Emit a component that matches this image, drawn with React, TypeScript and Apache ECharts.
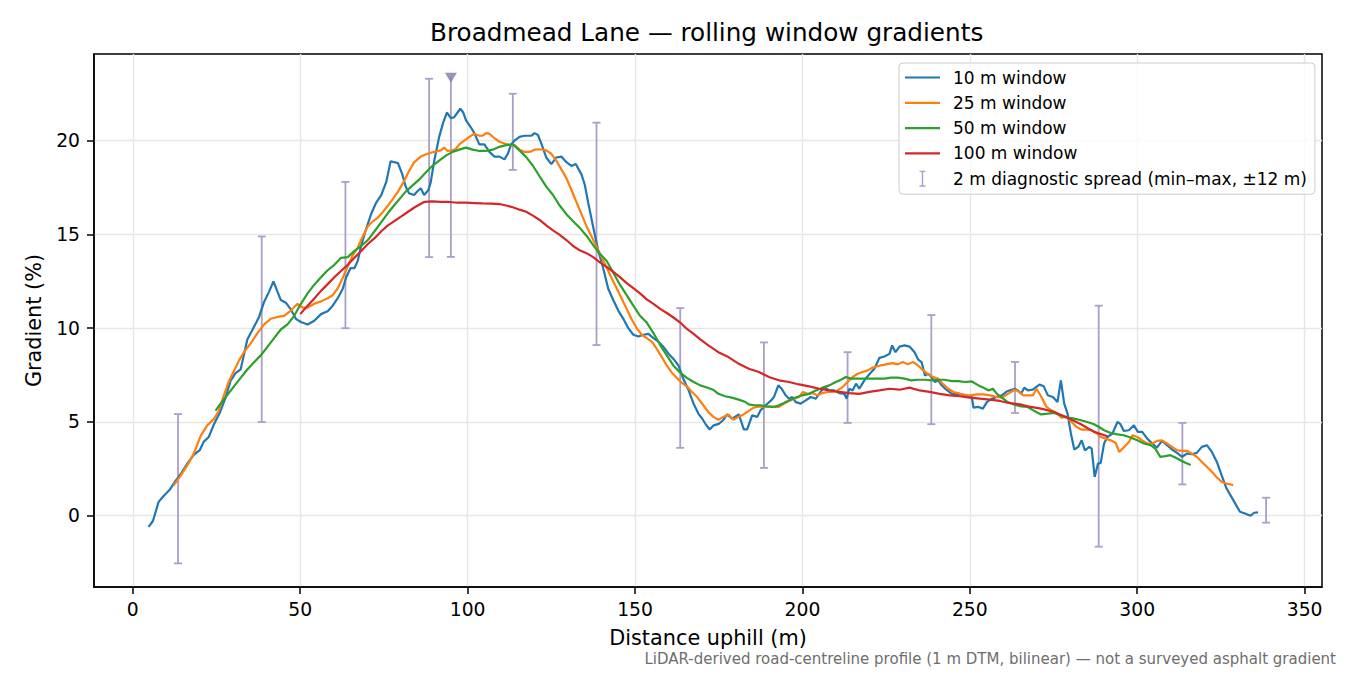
import React, { useEffect, useRef } from 'react';
import * as echarts from 'echarts';

const FONT = '"DejaVu Sans", sans-serif';

const xTicks = [0, 50, 100, 150, 200, 250, 300, 350];
const yTicks = [0, 5, 10, 15, 20];

const seriesNames = ['10 m window', '25 m window', '50 m window', '100 m window'];
const seriesColors = ['#1f77b4', '#ff7f0e', '#2ca02c', '#d62728'];
const spreadName = '2 m diagnostic spread (min–max, ±12 m)';
const SPREAD_COLOR = '#a99fc8';
const MARKER_COLOR = '#8576ab';

// 10 m window
const w10Dist = [4.7, 6, 7.7, 9.2, 11, 12.7, 14.2, 16.2, 18.2, 20, 21.2, 22.7, 24.2, 26, 27.7, 29.2, 30.7, 32.2, 33.2, 34.2, 35.7, 37.7, 39.2, 40.7, 42, 43.2, 44.2, 45.7, 47.2, 48.7, 50.2, 52.2, 54.2, 56.2, 58.2, 59.7, 61.2, 62.7, 63.7, 65, 66.2, 67.2, 68.2, 69.7, 71.2, 72.7, 74.2, 75.7, 77, 79.2, 80.5, 81.5, 82.5, 84, 85, 86, 87, 88.3, 89, 90, 91.5, 92.7, 93.8, 95, 96, 97, 97.8, 98.7, 99.5, 101, 102, 103.5, 105, 106.5, 108, 109.5, 111, 112, 113, 114, 115.5, 117, 119, 120, 121, 122, 123.5, 125, 126.5, 128, 129.5, 131, 132.3, 134, 135, 136, 137.5, 139, 140.5, 142, 143.5, 145, 146.5, 148, 149.5, 151, 152.5, 154, 155.5, 157, 158.5, 160, 161.5, 163, 164.5, 166, 167.5, 169, 170, 171.2, 172.3, 173.5, 175, 176.3, 177.5, 179, 181, 182.5, 183.5, 185, 186.5, 187.5, 189, 190.5, 191.5, 192.8, 193.8, 195, 196, 197, 198, 199.5, 201, 202.5, 204, 205, 206.5, 208, 209.5, 211, 212.5, 213.2, 214, 215, 216, 217, 218.5, 220, 221.5, 223, 224.5, 226, 226.8, 227.8, 229, 230.5, 232, 233.5, 234.6, 235.6, 236.6, 237.6, 238.6, 239.6, 240.6, 241.6, 243, 244.6, 246, 247.6, 249, 250.6, 251.1, 252.6, 253.9, 255.1, 256.6, 258.1, 259.6, 261, 262.5, 263.4, 264.4, 265.3, 266.3, 267.3, 268.8, 269.8, 270.8, 272.1, 273.3, 274.8, 276.2, 277.2, 278.2, 279.2, 280.2, 281.2, 282.4, 283.4, 284.4, 285.7, 286.4, 287.3, 288.3, 289.1, 290.1, 291.1, 292.6, 294.1, 295, 296, 297.5, 299, 300.2, 301.5, 303, 304.5, 305.9, 307.4, 308.9, 310.4, 311.9, 313.4, 314.9, 316.3, 317.8, 319.3, 320.8, 322.3, 323.8, 325.2, 326.7, 328.7, 330.7, 332.2, 333.9, 334.9, 336.1];
const w10Grad = [-0.59, -0.28, 0.74, 1.05, 1.38, 1.84, 2.2, 2.76, 3.25, 3.5, 3.95, 4.2, 4.87, 5.5, 6.3, 7.2, 7.6, 7.8, 8.6, 9.4, 9.9, 10.6, 11.4, 11.95, 12.5, 11.95, 11.5, 11.36, 11.0, 10.5, 10.33, 10.2, 10.4, 10.75, 10.9, 11.2, 11.6, 12.1, 12.7, 13.2, 13.2, 13.6, 14.4, 15.3, 16.1, 16.7, 17.1, 17.8, 18.9, 18.8, 18.2, 17.55, 17.2, 17.1, 17.3, 17.46, 17.1, 17.37, 17.8, 18.9, 20.2, 20.96, 21.5, 21.2, 21.25, 21.5, 21.7, 21.5, 21.1, 20.7, 20.4, 19.8, 19.8, 19.4, 19.15, 19.15, 19.0, 19.3, 19.8, 20.0, 20.2, 20.26, 20.26, 20.4, 20.3, 19.85, 19.1, 18.75, 19.1, 19.15, 18.85, 18.65, 18.75, 18.2, 17.65, 16.7, 15.4, 14.15, 13.2, 12.1, 11.5, 10.94, 10.5, 10.0, 9.65, 9.56, 9.65, 9.7, 9.47, 9.28, 9.0, 8.64, 8.36, 8.0, 7.26, 6.7, 5.97, 5.42, 5.2, 4.85, 4.6, 4.82, 4.9, 5.09, 5.4, 5.18, 5.4, 4.6, 4.6, 5.35, 5.27, 5.62, 5.89, 6.12, 6.33, 6.95, 6.77, 6.42, 6.24, 6.33, 6.06, 5.98, 6.15, 6.33, 6.24, 6.5, 6.86, 6.68, 6.68, 6.54, 6.5, 6.24, 6.77, 6.68, 7.04, 6.77, 7.22, 7.54, 7.84, 8.42, 8.49, 8.63, 9.08, 8.72, 9.02, 9.08, 9.02, 8.72, 8.32, 8.19, 7.48, 7.57, 7.39, 7.13, 7.22, 6.95, 6.72, 6.5, 6.47, 6.47, 6.42, 6.33, 5.76, 5.8, 5.71, 6.06, 6.24, 6.33, 6.42, 6.62, 6.72, 6.77, 6.68, 6.5, 6.83, 6.68, 6.72, 6.86, 6.99, 6.9, 6.42, 6.33, 6.06, 7.22, 5.98, 5.44, 4.38, 3.53, 3.67, 4.02, 3.49, 3.67, 3.58, 2.07, 2.78, 2.82, 3.85, 4.2, 4.38, 5.0, 4.88, 4.52, 4.56, 4.82, 4.47, 4.47, 4.11, 3.85, 3.63, 3.99, 3.76, 3.53, 3.35, 3.14, 3.32, 3.28, 3.35, 3.67, 3.76, 3.4, 2.87, 2.16, 1.45, 0.83, 0.21, 0.12, 0.0, 0.16, 0.18];

// 25 m window
const w25Dist = [12.2, 14.2, 16.2, 18.2, 20.2, 22.2, 24.2, 25.7, 27.2, 28.7, 30.2, 31.7, 33.2, 35.2, 37.2, 39.2, 41.2, 43.2, 45.2, 47.2, 49.2, 50.7, 52.2, 54.2, 56.2, 58.2, 59.7, 61.2, 62.7, 64.2, 65.7, 67.2, 68.7, 70.2, 71.7, 73.2, 74.7, 76.2, 77.7, 79.2, 81, 82.5, 84, 86, 88, 90, 92, 93, 94, 95.5, 96.5, 97.5, 99, 100.5, 102, 103.5, 104.5, 105.5, 106.5, 108, 109.5, 111, 112.5, 114, 115.5, 117, 118.5, 120, 121.5, 123.5, 125, 126.5, 128, 129.5, 131, 132.5, 134, 135.5, 137, 138.5, 140, 141.5, 143, 144.5, 146, 147.5, 149, 150.5, 152, 153.5, 155, 156.5, 158, 159.5, 161, 162.5, 164, 165.5, 167, 168.5, 170.4, 171.9, 173.4, 174.9, 176.4, 177.9, 179.4, 180.9, 182.4, 183.9, 185.4, 187, 189, 191, 193, 194.5, 196, 197.5, 199, 200.2, 201.5, 203, 204.5, 206, 207.5, 209, 210.5, 212, 213.5, 215, 216.5, 218, 219.5, 221, 223, 225, 227, 228.5, 230, 231.5, 233, 234.6, 236.1, 237.6, 239.1, 240.6, 242.1, 243.6, 245.1, 246.6, 248.1, 250.1, 252.1, 254.1, 256.1, 258.1, 259.6, 261.4, 263.4, 264.9, 265.9, 267.4, 268.9, 269.9, 271.4, 272.9, 274.4, 275.9, 277.4, 278.9, 280.4, 281.9, 283.4, 284.9, 286.4, 287.9, 289.1, 290.6, 292.1, 293.6, 294.6, 296.1, 297.6, 298.6, 300, 301.5, 303, 304.5, 305.9, 307.4, 308.9, 310.4, 311.9, 313.4, 314.9, 316.3, 317.8, 319.3, 320.8, 322.3, 323.8, 325.2, 326.7, 328.7];
const w25Grad = [1.62, 2.11, 2.67, 3.31, 4.23, 4.82, 5.15, 5.6, 6.43, 7.17, 7.72, 8.27, 8.73, 9.19, 9.74, 10.2, 10.5, 10.6, 10.66, 10.94, 11.3, 11.1, 11.1, 11.3, 11.43, 11.6, 11.76, 12.13, 12.68, 13.3, 13.9, 14.3, 14.9, 15.44, 15.7, 15.9, 16.2, 16.54, 16.9, 17.28, 17.83, 18.38, 18.84, 19.15, 19.3, 19.4, 19.48, 19.63, 19.45, 19.48, 19.57, 19.8, 20.0, 20.2, 20.37, 20.26, 20.27, 20.4, 20.37, 20.13, 19.94, 19.85, 19.76, 19.76, 19.52, 19.4, 19.4, 19.52, 19.54, 19.48, 19.3, 18.93, 18.47, 18.0, 17.37, 16.73, 16.08, 15.44, 14.9, 14.34, 13.8, 13.24, 12.68, 12.13, 11.58, 11.03, 10.48, 10.0, 9.65, 9.47, 9.28, 8.9, 8.46, 8.0, 7.63, 7.35, 7.08, 6.9, 6.6, 6.34, 5.89, 5.53, 5.27, 5.12, 5.27, 5.4, 5.12, 5.27, 5.4, 5.58, 5.76, 5.82, 5.82, 5.8, 5.8, 5.98, 6.12, 6.24, 6.33, 6.6, 6.5, 6.54, 6.42, 6.54, 6.6, 6.6, 6.68, 6.86, 7.13, 7.4, 7.57, 7.66, 7.75, 7.9, 8.0, 8.07, 8.14, 8.07, 8.2, 8.07, 8.2, 8.0, 7.75, 7.54, 7.39, 7.3, 7.0, 6.77, 6.6, 6.54, 6.42, 6.42, 6.47, 6.47, 6.42, 6.33, 6.3, 6.5, 6.72, 6.6, 6.42, 6.42, 6.42, 6.77, 6.33, 5.8, 5.62, 5.48, 5.23, 5.27, 5.0, 4.73, 4.59, 4.59, 4.56, 4.41, 4.2, 4.11, 4.02, 3.88, 3.4, 3.67, 3.94, 4.29, 4.2, 4.02, 3.85, 3.85, 3.99, 4.02, 3.85, 3.67, 3.49, 3.46, 3.46, 3.32, 3.14, 2.87, 2.61, 2.34, 2.04, 1.81, 1.72, 1.63];

// 50 m window
const w50Dist = [24.7, 26.2, 28.2, 30.2, 32.2, 34.2, 36.2, 38.2, 40.2, 42.2, 44.2, 46.2, 48.2, 50.2, 52.2, 54.2, 56.2, 58.2, 60.2, 62.2, 64.2, 66.2, 68.2, 70.2, 72.2, 74.2, 76.2, 78.2, 80.2, 81.5, 83.5, 85.5, 87.5, 89.5, 91.5, 93.5, 95.5, 97.5, 99.5, 101.5, 103.5, 105.5, 107.5, 109.5, 111.5, 113.5, 115.5, 117.5, 119.5, 121.5, 123.5, 125.5, 127.5, 129.5, 131.5, 133.5, 135.5, 137.5, 139.5, 141.5, 143.5, 145.5, 147.5, 149.5, 151.5, 153.5, 155.5, 157.5, 159.5, 161.5, 163.5, 165.5, 167.5, 169.5, 171.5, 173.5, 174.9, 176.9, 178.9, 181, 183, 184, 185.5, 187.5, 189.5, 191.5, 193, 194.5, 196, 198, 200, 202, 204, 206, 208, 210, 211.5, 213, 214.5, 216.5, 218.5, 220.5, 222.5, 224.5, 226.5, 228.5, 230.5, 232.5, 234.5, 236.6, 238.6, 240.6, 242.6, 244.6, 246.6, 248.6, 250.6, 252.6, 254.1, 255.6, 256.9, 258.1, 259.6, 261.3, 263.2, 265.3, 267.3, 269.3, 271.3, 273.3, 275.2, 277.2, 279.2, 281.2, 283.2, 285.1, 287.1, 288.6, 290.1, 292.1, 294.1, 296, 298, 300, 302, 304, 305.4, 306.9, 308.4, 309.9, 311.4, 312.9, 314.4, 316];
const w50Grad = [5.6, 5.97, 6.43, 6.9, 7.35, 7.8, 8.18, 8.55, 9.0, 9.47, 9.93, 10.2, 10.66, 11.3, 11.86, 12.32, 12.72, 13.09, 13.38, 13.75, 13.79, 14.12, 14.38, 14.7, 15.17, 15.66, 16.14, 16.58, 17.0, 17.28, 17.6, 17.92, 18.3, 18.66, 18.93, 19.2, 19.4, 19.52, 19.63, 19.52, 19.45, 19.45, 19.52, 19.67, 19.76, 19.8, 19.48, 19.12, 18.66, 18.1, 17.55, 17.1, 16.54, 16.08, 15.7, 15.35, 14.93, 14.43, 13.97, 13.6, 12.96, 12.32, 11.76, 11.2, 10.66, 10.3, 9.74, 9.1, 8.55, 8.0, 7.63, 7.35, 7.13, 6.95, 6.84, 6.7, 6.5, 6.37, 6.3, 6.19, 6.06, 5.94, 5.89, 5.89, 5.83, 5.8, 5.89, 6.01, 6.15, 6.3, 6.42, 6.5, 6.68, 6.83, 6.95, 7.13, 7.25, 7.4, 7.31, 7.31, 7.31, 7.31, 7.31, 7.31, 7.36, 7.36, 7.31, 7.22, 7.25, 7.25, 7.22, 7.25, 7.25, 7.18, 7.18, 7.13, 7.16, 6.95, 6.83, 6.68, 6.77, 6.5, 6.3, 6.06, 5.93, 5.83, 5.8, 5.58, 5.4, 5.44, 5.48, 5.35, 5.23, 5.18, 5.09, 5.0, 4.88, 4.73, 4.56, 4.41, 4.34, 4.29, 4.17, 4.02, 3.85, 3.76, 3.58, 3.14, 3.18, 3.23, 3.1, 2.96, 2.82, 2.7];

// 100 m window
const w100Dist = [50, 52.2, 54.2, 56.2, 58.2, 60.2, 62.2, 64.2, 66.2, 68.2, 70.2, 72.2, 74.2, 76.2, 78.2, 80.2, 82.2, 84.2, 87, 89.5, 92, 94.5, 97, 99.5, 102, 104.5, 107, 109.5, 111.5, 113.5, 115.5, 117.5, 119.5, 121.5, 123.5, 125.5, 127.5, 129.5, 131.5, 133.5, 135.5, 137.5, 139.5, 141.5, 143.5, 145.5, 147.5, 149.5, 151.5, 153.5, 155.5, 157.5, 159.5, 161.5, 163.5, 165.5, 167.5, 169.5, 171.9, 174.9, 177.9, 181, 184, 187, 190, 193, 196, 199, 202, 205, 208, 211, 214, 217, 220, 223, 226, 229, 232, 235, 238, 241, 244, 247, 250, 253, 256, 259, 262, 265, 267.3, 271.3, 275.2, 279.2, 283.2, 287.1, 291.1];
const w100Grad = [10.75, 11.2, 11.58, 11.99, 12.35, 12.72, 13.05, 13.38, 13.75, 14.12, 14.49, 14.8, 15.17, 15.48, 15.72, 15.96, 16.21, 16.45, 16.73, 16.76, 16.73, 16.73, 16.69, 16.69, 16.67, 16.65, 16.64, 16.62, 16.54, 16.45, 16.32, 16.21, 16.0, 15.77, 15.48, 15.22, 14.98, 14.7, 14.38, 14.15, 14.0, 13.79, 13.51, 13.27, 13.01, 12.72, 12.4, 12.13, 11.86, 11.54, 11.3, 11.03, 10.81, 10.57, 10.3, 9.96, 9.7, 9.4, 9.08, 8.72, 8.46, 8.1, 7.84, 7.66, 7.4, 7.22, 7.13, 7.0, 6.9, 6.77, 6.68, 6.6, 6.54, 6.5, 6.6, 6.68, 6.77, 6.72, 6.83, 6.68, 6.6, 6.5, 6.42, 6.37, 6.3, 6.24, 6.19, 6.12, 6.0, 5.94, 5.83, 5.71, 5.53, 5.23, 4.88, 4.47, 4.24];

// 2 m diagnostic spread, min and max over ±12 m
const spreadDist = [13.5, 38.5, 63.5, 88.5, 113.5, 138.5, 163.5, 188.5, 213.5, 238.5, 263.5, 288.5, 313.5, 338.5];
const spreadLow = [-2.54, 5.0, 10.0, 13.79, 18.44, 9.1, 3.62, 2.55, 4.95, 4.88, 5.48, -1.65, 1.67, -0.37];
const spreadHigh = [5.42, 14.89, 17.8, 23.3, 22.5, 20.96, 11.07, 9.24, 8.72, 10.7, 8.2, 11.2, 4.95, 0.96];

// spread whose max runs off the top of the axis
const clippedDist = [95];
const clippedLow = [13.8];
const clippedTop = [23.35];

const lineDists = [w10Dist, w25Dist, w50Dist, w100Dist];
const lineGrads = [w10Grad, w25Grad, w50Grad, w100Grad];

const IBEAM = 'path://M0,0H6V1.4H3.7V14.6H6V16H0V14.6H2.3V1.4H0Z';
const LINE_ICON = 'path://M0,0H35V2.2H0Z';

const renderSpread = (params: any, api: any) => {
  const x = api.value(0);
  const lo = api.coord([x, api.value(1)]);
  const hi = api.coord([x, api.value(2)]);
  const hasTopCap = api.value(3) === 1;
  const style = { stroke: SPREAD_COLOR, lineWidth: 1.8 };
  const half = 4;
  const children: any[] = [
    { type: 'line', shape: { x1: lo[0], y1: lo[1], x2: hi[0], y2: hi[1] }, style },
    { type: 'line', shape: { x1: lo[0] - half, y1: lo[1], x2: lo[0] + half, y2: lo[1] }, style }
  ];
  if (hasTopCap) {
    children.push({ type: 'line', shape: { x1: hi[0] - half, y1: hi[1], x2: hi[0] + half, y2: hi[1] }, style });
  }
  return { type: 'group', children };
};

const App: React.FC = () => {
  const chartRef = useRef<HTMLDivElement>(null);

  useEffect(() => {
    if (!chartRef.current) return;
    const chart = echarts.init(chartRef.current, undefined, { renderer: 'svg' });

    const spreadData = spreadDist
      .map((d, i) => [d, spreadLow[i], spreadHigh[i], 1])
      .concat(clippedDist.map((d, i) => [d, clippedLow[i], clippedTop[i], 0]));

    const lineSeries = seriesNames.map((name, k) => ({
      name,
      type: 'line',
      data: lineDists[k].map((d, i) => [d, lineGrads[k][i]]),
      symbol: 'none',
      showSymbol: false,
      color: seriesColors[k],
      lineStyle: { width: 2.2, color: seriesColors[k] },
      z: 3 + k
    }));

    const option = {
      animation: false,
      backgroundColor: '#ffffff',
      textStyle: { fontFamily: FONT },
      title: [
        {
          text: 'Broadmead Lane — rolling window gradients',
          left: 430,
          top: 20,
          padding: 0,
          textStyle: { fontFamily: FONT, fontSize: 24.7, fontWeight: 'normal', color: '#000' }
        },
        {
          text: 'LiDAR-derived road-centreline profile (1 m DTM, bilinear) — not a surveyed asphalt gradient',
          right: 14,
          top: 651,
          padding: 0,
          textStyle: { fontFamily: FONT, fontSize: 15, fontWeight: 'normal', color: '#6e6e6e' }
        }
      ],
      grid: {
        left: 94,
        right: 28,
        top: 54,
        bottom: 88,
        show: true,
        borderColor: '#000',
        borderWidth: 1.5,
        backgroundColor: 'transparent'
      },
      legend: {
        left: 899,
        top: 63,
        orient: 'vertical',
        padding: [6, 8, 7, 6],
        itemGap: 8.3,
        itemWidth: 35,
        itemHeight: 16,
        backgroundColor: 'rgba(255,255,255,0.8)',
        borderColor: '#cccccc',
        borderWidth: 1,
        borderRadius: 4,
        textStyle: { fontFamily: FONT, fontSize: 17, color: '#000', lineHeight: 17, padding: [0, 0, 0, 8] },
        data: [
          ...seriesNames.map((name) => ({ name, icon: LINE_ICON })),
          { name: spreadName, icon: IBEAM }
        ]
      },
      xAxis: {
        type: 'value',
        min: -11.6,
        max: 355.2,
        name: 'Distance uphill (m)',
        nameLocation: 'middle',
        nameGap: 40,
        nameTextStyle: { fontFamily: FONT, fontSize: 20.8, color: '#000' },
        axisLine: { show: true, onZero: false, lineStyle: { color: '#000', width: 1.5 } },
        axisTick: { show: true, length: 7, customValues: xTicks, lineStyle: { color: '#000', width: 1.5 } },
        axisLabel: { customValues: xTicks, margin: 13, fontFamily: FONT, fontSize: 18.75, color: '#000' },
        splitLine: { show: true, lineStyle: { color: '#e6e6e6', width: 1.4 } }
      },
      yAxis: {
        type: 'value',
        min: -3.8,
        max: 24.62,
        name: 'Gradient (%)',
        nameLocation: 'middle',
        nameGap: 50,
        nameTextStyle: { fontFamily: FONT, fontSize: 20.8, color: '#000' },
        axisLine: { show: true, onZero: false, lineStyle: { color: '#000', width: 1.5 } },
        axisTick: { show: true, length: 7, customValues: yTicks, lineStyle: { color: '#000', width: 1.5 } },
        axisLabel: { customValues: yTicks, margin: 14, fontFamily: FONT, fontSize: 18.75, color: '#000' },
        splitLine: { show: true, lineStyle: { color: '#e6e6e6', width: 1.4 } }
      },
      series: [
        {
          name: spreadName,
          type: 'custom',
          renderItem: renderSpread,
          data: spreadData,
          encode: { x: 0, y: [1, 2] },
          itemStyle: { color: SPREAD_COLOR },
          z: 2
        },
        ...lineSeries,
        {
          name: 'clipped',
          type: 'scatter',
          data: clippedDist.map((d, i) => [d, clippedTop[i]]),
          symbol: 'triangle',
          symbolRotate: 180,
          symbolSize: [12, 10],
          itemStyle: { color: MARKER_COLOR },
          z: 10
        }
      ]
    };

    chart.setOption(option as any);

    return () => {
      chart.dispose();
    };
  }, []);

  return (
    <div
      ref={chartRef}
      style={{ position: 'fixed', left: 0, top: 0, width: 1350, height: 675, background: '#fff' }}
    />
  );
};

export default App;
